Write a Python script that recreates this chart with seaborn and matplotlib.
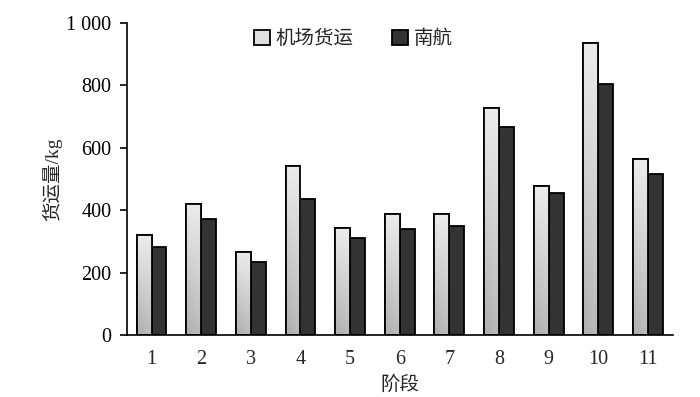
import numpy as np
import pandas as pd
import matplotlib
matplotlib.use('Agg')
import matplotlib.pyplot as plt
import matplotlib.ticker as mticker
import seaborn as sns

stages = ['1', '2', '3', '4', '5', '6', '7', '8', '9', '10', '11']
airport = [320, 420, 266, 542, 343, 388, 388, 728, 477, 936, 564]
csair = [282, 372, 234, 436, 311, 340, 349, 667, 455, 804, 516]
series_names = ['机场货运', '南航']

df = pd.DataFrame({'阶段': stages * 2,
                   '货运量': airport + csair,
                   'series': [series_names[0]] * len(stages) + [series_names[1]] * len(stages)})

sns.set_style('white')
plt.rcParams['font.family'] = ['Liberation Serif', 'Noto Sans CJK SC']

fig, ax = plt.subplots(figsize=(7, 3.97), dpi=100)
fig.subplots_adjust(left=0.181, right=0.961, bottom=0.156, top=0.942)

sns.barplot(data=df, x='阶段', y='货运量', hue='series', width=0.6,
            palette=['#d8d8d8', '#333333'], edgecolor='black', linewidth=1.3,
            saturation=1, ax=ax)

# gradient fill for the light bars
grad = np.linspace(0, 1, 100).reshape(-1, 1)
grad = np.hstack([grad, grad * 0.85 + 0.15])
cmap = matplotlib.colors.LinearSegmentedColormap.from_list('g', ['#b0b0b0', '#ececec'])
for p in ax.containers[0]:
    x0, y0 = p.get_x(), p.get_y()
    w, h = p.get_width(), p.get_height()
    im = ax.imshow(grad, cmap=cmap, aspect='auto', origin='lower',
                   extent=(x0, x0 + w, y0, y0 + h), zorder=p.get_zorder() + 0.1,
                   interpolation='bilinear')
    im.set_clip_path(p)
    edge = plt.Rectangle((x0, y0), w, h, fill=False, edgecolor='black',
                         linewidth=1.3, zorder=p.get_zorder() + 0.2)
    ax.add_patch(edge)

ax.set_xlim(-0.5, 10.5)
ax.set_ylim(0, 1000)
ax.set_yticks(range(0, 1001, 200))
ax.yaxis.set_major_formatter(mticker.FuncFormatter(
    lambda v, pos: '{:,}'.format(int(v)).replace(',', ' ')))
ax.tick_params(axis='y', left=True, direction='out', length=5, width=1.2,
               labelsize=14.5, colors='black', pad=6)
ax.tick_params(axis='x', bottom=False, labelsize=14.5, pad=7)
for s in ['top', 'right']:
    ax.spines[s].set_visible(False)
for s in ['left', 'bottom']:
    ax.spines[s].set_color('black')
    ax.spines[s].set_linewidth(1.2)

ax.set_xlabel('阶段', fontsize=14, labelpad=5)
ax.set_ylabel('货运量/kg', fontsize=14, labelpad=3)

leg = ax.legend(loc='upper center', bbox_to_anchor=(0.415, 1.035), ncol=2,
                frameon=False, fontsize=14, handlelength=0.8, handleheight=0.8,
                handletextpad=0.3, columnspacing=2.0)
leg.get_patches()[0].set_facecolor('#e0e0e0')

fig.savefig('out.png', dpi=100)
